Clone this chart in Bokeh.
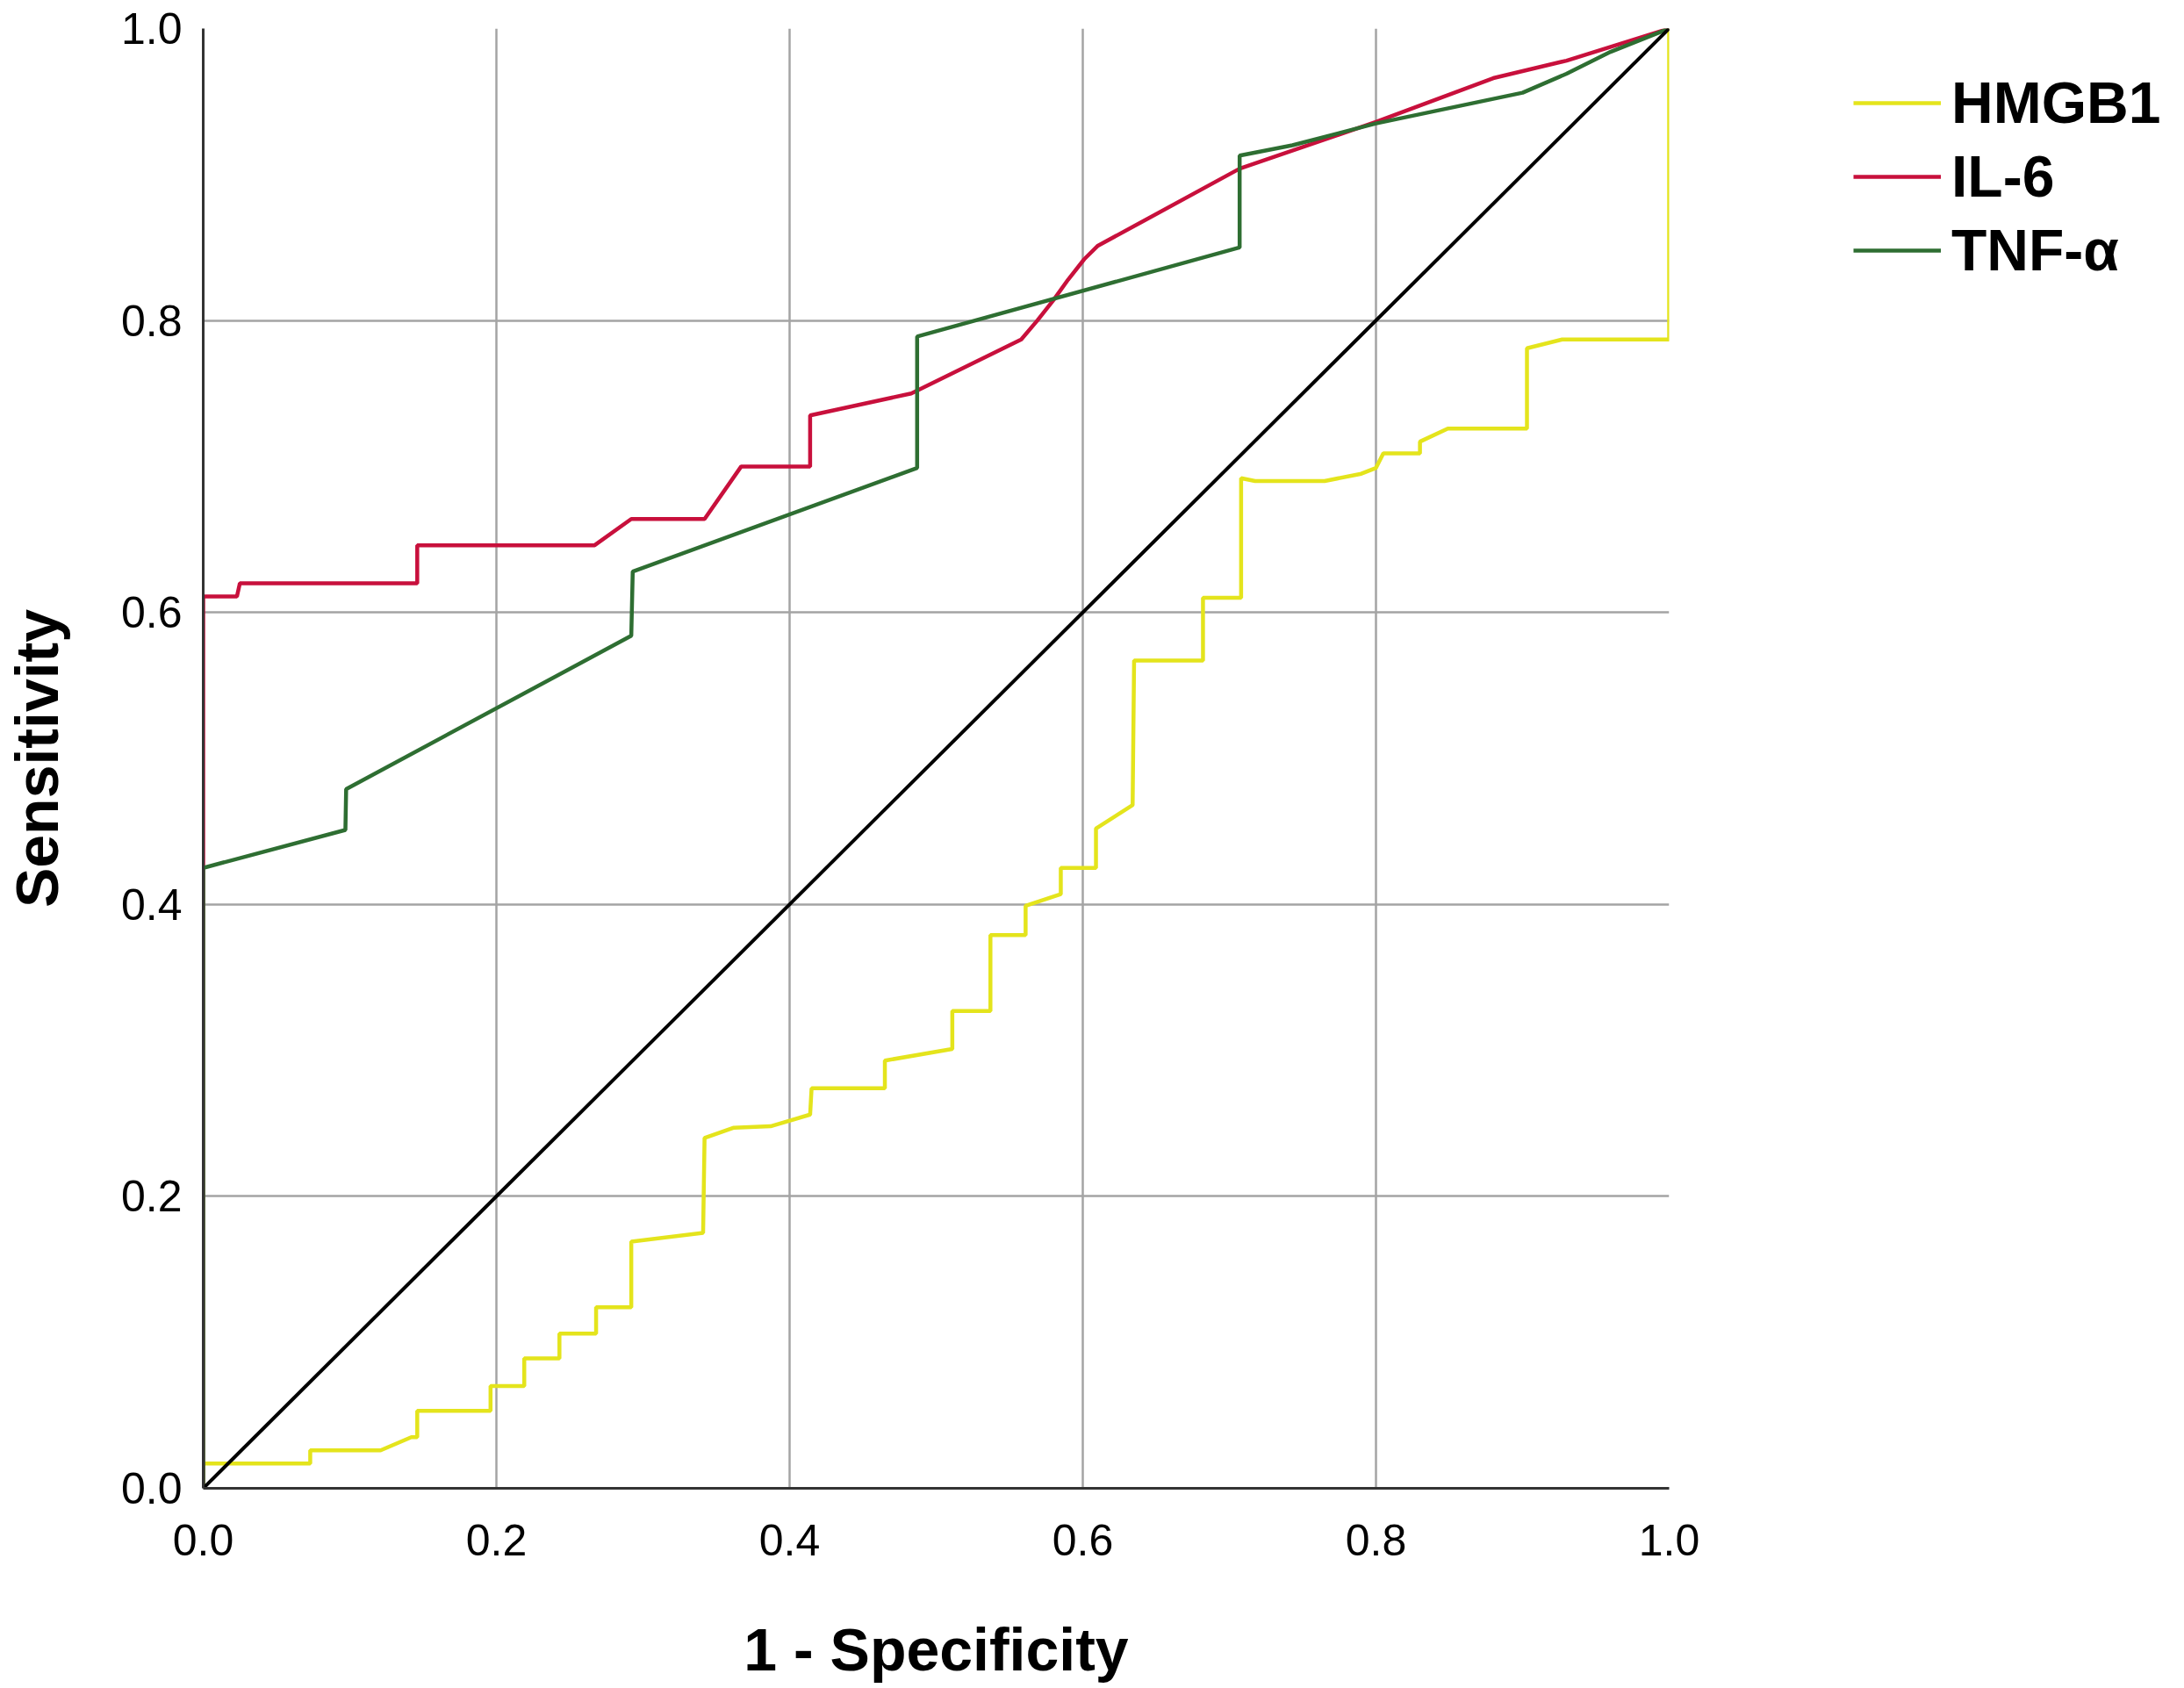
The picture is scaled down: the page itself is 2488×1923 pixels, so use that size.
from bokeh.plotting import figure
from bokeh.models import Range1d, FixedTicker, PrintfTickFormatter, Legend, LegendItem
from bokeh.embed import file_html
from bokeh.resources import INLINE

# ---- data ----
series_names = ["HMGB1", "IL-6", "TNF-α"]

hmgb1_fpr = [0, 0, 0.073, 0.073, 0.121, 0.142, 0.146, 0.146, 0.196, 0.196, 0.219, 0.219,
             0.243, 0.243, 0.268, 0.268, 0.292, 0.292, 0.341, 0.342, 0.362, 0.387, 0.414,
             0.415, 0.465, 0.465, 0.511, 0.511, 0.537, 0.537, 0.561, 0.561, 0.585, 0.585,
             0.609, 0.609, 0.634, 0.635, 0.682, 0.682, 0.708, 0.708, 0.7175, 0.765, 0.79,
             0.80, 0.805, 0.83, 0.83, 0.849, 0.903, 0.903, 0.927, 1.0, 1.0]
hmgb1_tpr = [0, 0.017, 0.017, 0.026, 0.026, 0.035, 0.035, 0.053, 0.053, 0.070, 0.070, 0.089,
             0.089, 0.106, 0.106, 0.124, 0.124, 0.169, 0.175, 0.240, 0.247, 0.248, 0.256,
             0.274, 0.274, 0.293, 0.301, 0.327, 0.327, 0.379, 0.379, 0.399, 0.407, 0.425,
             0.425, 0.452, 0.468, 0.567, 0.567, 0.610, 0.610, 0.692, 0.690, 0.690, 0.695,
             0.699, 0.709, 0.709, 0.717, 0.726, 0.726, 0.781, 0.787, 0.787, 1.0]

il6_fpr = [0, 0, 0.023, 0.025, 0.146, 0.146, 0.267, 0.292, 0.342, 0.367, 0.414, 0.414,
           0.483, 0.558, 0.569, 0.58, 0.59, 0.601, 0.61, 0.707, 0.80, 0.88, 0.93, 1.0]
il6_tpr = [0, 0.611, 0.611, 0.620, 0.620, 0.646, 0.646, 0.664, 0.664, 0.700, 0.700, 0.735,
           0.750, 0.787, 0.800, 0.814, 0.828, 0.842, 0.851, 0.904, 0.936, 0.966, 0.978, 1.0]

tnf_fpr = [0, 0, 0.097, 0.0975, 0.292, 0.293, 0.487, 0.487, 0.707, 0.707, 0.743, 0.80,
           0.90, 0.93, 0.96, 1.0]
tnf_tpr = [0, 0.425, 0.451, 0.479, 0.584, 0.628, 0.699, 0.789, 0.850, 0.913, 0.920, 0.935,
           0.956, 0.969, 0.984, 1.0]

ref_x = [0, 1]
ref_y = [0, 1]

ticks = [0.0, 0.2, 0.4, 0.6, 0.8, 1.0]

colors = {"HMGB1": "#e4e41c", "IL-6": "#c8103c", "TNF-α": "#2e6e32"}

FONT = "Liberation Sans"

p = figure(width=2472, height=1907, output_backend="svg", toolbar_location=None,
           x_range=Range1d(0, 1), y_range=Range1d(0, 1),
           frame_width=1670, frame_height=1663,
           min_border_left=230, min_border_right=572, min_border_top=32, min_border_bottom=212,
           background_fill_color="white", border_fill_color="white")
p.outline_line_color = None

for ax in (p.xaxis, p.yaxis):
    ax.ticker = FixedTicker(ticks=ticks)
    ax.formatter = PrintfTickFormatter(format="%.1f")
    ax.major_tick_out = 0
    ax.major_tick_in = 0
    ax.minor_tick_out = 0
    ax.minor_tick_in = 0
    ax.axis_line_color = "#333333"
    ax.axis_line_width = 3
    ax.major_label_text_font = FONT
    ax.major_label_text_font_size = "50px"
    ax.major_label_text_color = "black"
    ax.axis_label_text_font = FONT
    ax.axis_label_text_font_size = "68px"
    ax.axis_label_text_font_style = "bold"
    ax.axis_label_text_color = "black"

p.xaxis.axis_label = "1 - Specificity"
p.yaxis.axis_label = "Sensitivity"
p.xaxis.major_label_standoff = 41
p.yaxis.major_label_standoff = 24
p.xaxis.axis_label_standoff = 66
p.yaxis.axis_label_standoff = 55

for g in (p.xgrid, p.ygrid):
    g.ticker = FixedTicker(ticks=ticks)
    g.grid_line_color = "#a4a4a4"
    g.grid_line_width = 2.5

r_h = p.line(hmgb1_fpr, hmgb1_tpr, line_color=colors["HMGB1"], line_width=4.5)
r_i = p.line(il6_fpr, il6_tpr, line_color=colors["IL-6"], line_width=4.5)
r_t = p.line(tnf_fpr, tnf_tpr, line_color=colors["TNF-α"], line_width=4.5)
p.line(ref_x, ref_y, line_color="black", line_width=4)

legend = Legend(items=[LegendItem(label=series_names[0], renderers=[r_h]),
                       LegendItem(label=series_names[1], renderers=[r_i]),
                       LegendItem(label=series_names[2], renderers=[r_t])],
                location=(210, 1372), orientation="vertical",
                glyph_width=100, glyph_height=60, label_height=60, spacing=8,
                label_standoff=12, padding=0, margin=0,
                label_text_font=FONT, label_text_font_size="66px",
                label_text_font_style="bold", label_text_color="black",
                label_text_baseline="middle",
                border_line_alpha=0, background_fill_alpha=0)
p.add_layout(legend, "right")

open("out.html", "w").write(file_html(p, INLINE))
